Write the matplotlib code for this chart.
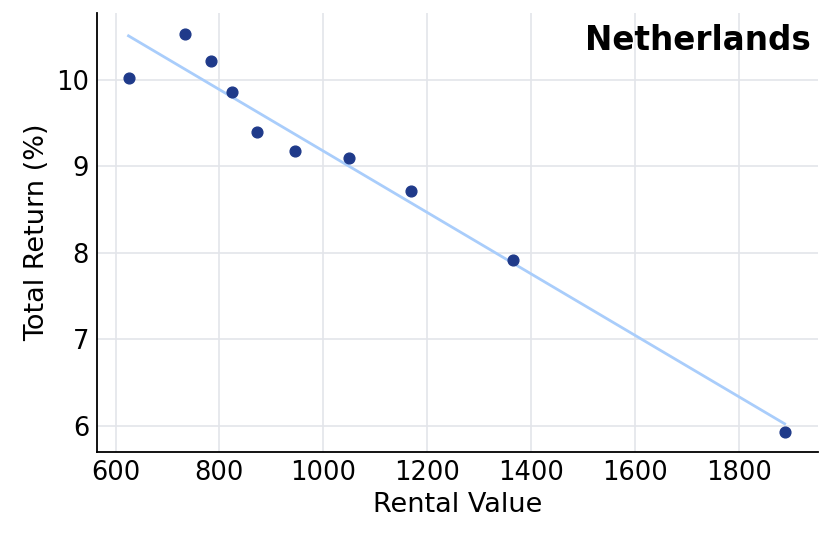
import matplotlib.pyplot as plt
import numpy as np

rental_value = [625, 733, 783, 825, 873, 946, 1050, 1169, 1365, 1888]
total_return = [10.02, 10.53, 10.21, 9.86, 9.40, 9.18, 9.09, 8.71, 7.92, 5.93]

fig, ax = plt.subplots(figsize=(8.32, 5.42), dpi=100)
fig.subplots_adjust(left=0.117, right=0.983, top=0.976, bottom=0.166)

x = np.array(rental_value)
y = np.array(total_return)
slope, intercept = np.polyfit(x, y, 1)
xs = np.array([x.min(), x.max()])
ax.plot(xs, slope * xs + intercept, color='#a9cdfb', lw=2, zorder=2)
ax.scatter(x, y, color='#1f3a8a', s=60, zorder=3)

ax.set_xlim(565, 1952)
ax.set_ylim(5.70, 10.77)
ax.set_xticks(range(600, 1801, 200))
ax.set_yticks(range(6, 11))
ax.grid(color='#e3e5ea', lw=1.2)
ax.set_axisbelow(True)
for s in ['top', 'right']:
    ax.spines[s].set_visible(False)
for s in ['left', 'bottom']:
    ax.spines[s].set_linewidth(1.3)
ax.tick_params(length=0, labelsize=18.5, pad=6)
ax.set_xlabel('Rental Value', fontsize=19.5)
ax.set_ylabel('Total Return (%)', fontsize=19.5)
ax.text(0.99, 0.975, 'Netherlands', transform=ax.transAxes, ha='right', va='top',
        fontsize=23.5, fontweight='bold')

fig.savefig('out.png')
